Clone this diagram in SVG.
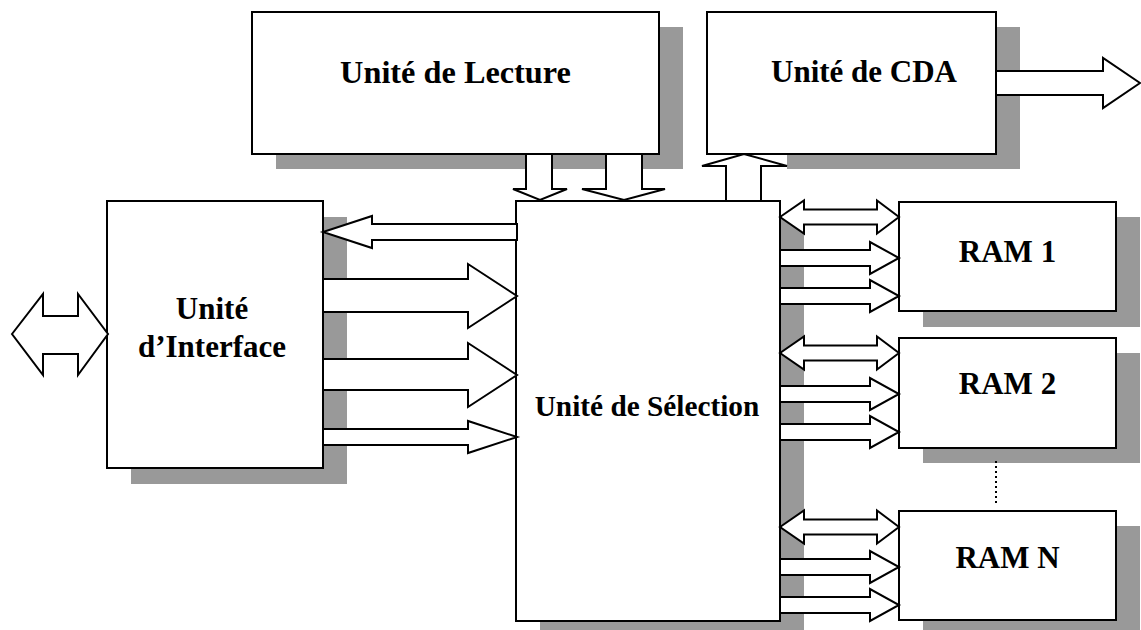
<svg xmlns="http://www.w3.org/2000/svg" width="1141" height="630" viewBox="0 0 1141 630">
  <style>
    .shadow { fill: #999999; stroke: none; }
    .box { fill: #ffffff; stroke: #000000; stroke-width: 2; }
    .bus { fill: #ffffff; stroke: #000000; stroke-width: 2; stroke-linejoin: miter; }
    .label { font-family: "Liberation Serif", "Times New Roman", serif; font-weight: bold; font-size: 31px; fill: #000000; text-anchor: middle; }
    .label.big { font-size: 32.3px; }
    .label.small { font-size: 29.3px; }
    .dots { stroke: #000000; stroke-width: 2; stroke-dasharray: 2 3; fill: none; }
  </style>
  <rect width="1141" height="630" fill="#ffffff"/>

  <!-- Reading unit -->
  <g id="lecture">
    <rect class="shadow" x="276" y="27" width="407" height="142"/>
    <rect class="box" x="252" y="12" width="407" height="142"/>
    <text class="label big" x="455.5" y="83">Unité de Lecture</text>
  </g>

  <!-- DAC unit (shadow leaves room for the incoming bus head) -->
  <g id="cda">
    <path class="shadow" d="M731,27 H1020 V169 H787 V154 H731 Z"/>
    <rect class="box" x="707" y="12" width="289" height="142"/>
    <text class="label" x="864" y="82">Unité de CDA</text>
  </g>

  <!-- Interface unit -->
  <g id="interface">
    <rect class="shadow" x="131" y="217" width="216" height="267"/>
    <rect class="box" x="107" y="201" width="216" height="267"/>
    <text class="label" x="212" y="319">Unité</text>
    <text class="label" x="212" y="357">d’Interface</text>
  </g>

  <!-- Selection unit -->
  <g id="selection">
    <rect class="shadow" x="540" y="217" width="264" height="420"/>
    <rect class="box" x="516" y="201" width="264" height="420"/>
    <text class="label small" x="647" y="416">Unité de Sélection</text>
  </g>

  <!-- Memory banks -->
  <g id="ram1">
    <rect class="shadow" x="923" y="217" width="217" height="110"/>
    <rect class="box" x="899" y="202" width="217" height="109"/>
    <text class="label" x="1007.5" y="262">RAM 1</text>
  </g>
  <g id="ram2">
    <rect class="shadow" x="923" y="353" width="217" height="110"/>
    <rect class="box" x="899" y="338" width="217" height="110"/>
    <text class="label" x="1007.5" y="394">RAM 2</text>
  </g>
  <g id="ramn">
    <rect class="shadow" x="923" y="526" width="217" height="110"/>
    <rect class="box" x="899" y="511" width="217" height="109"/>
    <text class="label" x="1007.5" y="568">RAM N</text>
  </g>

  <!-- Buses -->
  <g id="connectors">
    <!-- external bidirectional bus -->
    <polygon class="bus" points="12,334 43,294 43,316 78,316 78,294 108,334 78,375 78,354 43,354 43,375"/>

    <!-- selection -> interface -->
    <polygon class="bus" points="517,224 372,224 372,216 323,232 372,248 372,240 517,240"/>
    <!-- interface -> selection -->
    <polygon class="bus" points="323,279 468,279 468,264 517,296 468,328 468,312 323,312"/>
    <polygon class="bus" points="323,359 468,359 468,343 517,375 468,407 468,390 323,390"/>
    <polygon class="bus" points="323,429 468,429 468,421 517,437 468,453 468,445 323,445"/>

    <!-- reading unit -> selection -->
    <polygon class="bus" points="526,154 526,189 513,189 540,200 567,189 552,189 552,154"/>
    <polygon class="bus" points="606,154 606,189 582,189 624,200 665,189 642,189 642,154"/>

    <!-- selection -> DAC unit -->
    <polygon class="bus" points="726,201 726,166 702,166 744,154 787,166 761,166 761,201"/>
    <!-- DAC output -->
    <polygon class="bus" points="996,71 1103,71 1103,58 1140,83 1103,108 1103,95 996,95"/>

    <!-- RAM 1 -->
    <polygon class="bus" points="780,217 804,200.5 804,209.5 877,209.5 877,200.5 899,217 877,233.5 877,224.5 804,224.5 804,233.5"/>
    <polygon class="bus" points="780,250 870,250 870,242 899,258 870,274 870,266 780,266"/>
    <polygon class="bus" points="780,288 870,288 870,280 899,296 870,312 870,304 780,304"/>

    <!-- RAM 2 -->
    <polygon class="bus" points="780,353 804,336.5 804,345.5 877,345.5 877,336.5 899,353 877,369.5 877,360.5 804,360.5 804,369.5"/>
    <polygon class="bus" points="780,386 870,386 870,378 899,394 870,410 870,402 780,402"/>
    <polygon class="bus" points="780,424 870,424 870,416 899,432 870,448 870,440 780,440"/>

    <!-- RAM N -->
    <polygon class="bus" points="780,527 804,510.5 804,519.5 877,519.5 877,510.5 899,527 877,543.5 877,534.5 804,534.5 804,543.5"/>
    <polygon class="bus" points="780,559 870,559 870,551 899,567 870,583 870,575 780,575"/>
    <polygon class="bus" points="780,597 870,597 870,589 899,605 870,621 870,613 780,613"/>

    <!-- further banks -->
    <line class="dots" x1="996" y1="461" x2="996" y2="505"/>
  </g>
</svg>
